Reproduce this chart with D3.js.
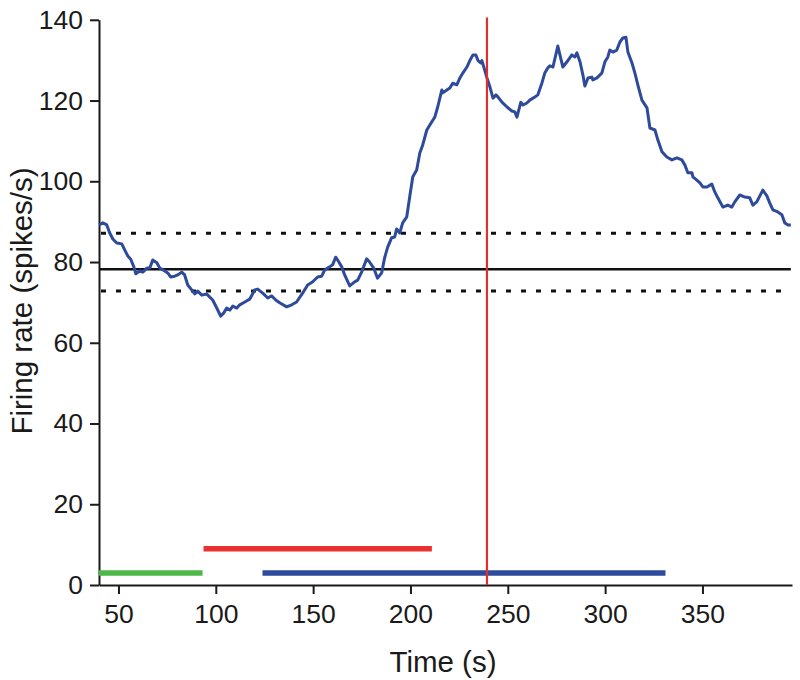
<!DOCTYPE html>
<html>
<head>
<meta charset="utf-8">
<script src="https://cdn.jsdelivr.net/npm/d3@7"></script>
<style>
  body { margin: 0; background: #fff; }
  svg text { font-family: "Liberation Sans", Arial, sans-serif; fill: #1a1a1a; }
</style>
</head>
<body>
<svg width="800" height="680"></svg>
<script>

// time points (s) of the firing rate trace
var times = [40,42,44,45.5,47.1,49.1,51.7,53.2,54.8,56.3,
  57.9,58.9,61,62.5,64.6,66.1,67.6,69.7,71.2,73.8,
  75.3,76.8,78.9,80.4,82.5,84,85.6,87.6,89.2,90.7,
  92.8,95.3,96.9,98.4,100.5,102.5,104.1,105.6,107.2,108.7,
  110.8,112.3,114.9,117.4,120,121.5,124.1,126.7,128.7,130.8,
  132.8,136.4,139,141.5,144.6,147.2,149.8,152.3,154.4,155.9,
  158.5,160,161.6,162.6,164.7,166.2,168.8,171.3,172.9,174.9,
  177.5,179,181.1,183.1,185.2,186.7,188.3,190.3,191.9,192.9,
  194.5,196,198.1,199.6,201.2,203.2,204.8,206.3,208.4,210.9,
  212.5,214,216.1,216.6,218.7,220.2,221.8,223.8,225.4,226.9,
  229,230.5,232.1,233.6,234.7,236.2,236.7,237.8,239.3,240.8,
  242.4,243.9,244.9,247,249.6,252.1,253.6,254.7,256.7,257.8,
  259.8,261.3,263.9,265.4,267.5,269,270.6,271.6,273.2,275.7,
  278.3,280.4,282.9,284.5,285.5,287.1,288.6,289.6,291.2,293.2,
  293.7,295.8,298.3,299.9,301.4,302.4,304,306,307.6,309.1,
  310.7,311.7,313.8,315.3,316.8,318.9,321.5,323,325.6,327.1,
  329.2,331.7,334.3,336.9,339.4,341,342.5,344.6,345.1,347.1,
  348.7,350.2,352.3,354.8,356.4,357.9,360.5,363,365.1,366.6,
  369.2,371.8,374.3,375.9,377.9,379.5,381,383.1,384.6,386.2,
  388.7,390.8,392.3,393.9,395.4];

// firing rate (spikes/s)
var rates = [89.2,89.7,89.2,87.2,85.7,84.7,84.5,83.0,81.5,80.7,
  78.8,77.1,77.8,77.5,78.5,78.5,80.5,79.8,78.5,77.8,
  77.3,76.3,76.5,76.8,77.5,76.8,74.3,73.1,72.1,72.8,
  71.8,72.1,71.3,70.6,68.6,66.6,67.4,68.6,68.1,69.1,
  68.6,69.4,70.1,70.8,73.1,73.3,72.3,71.1,71.6,70.6,
  69.9,68.9,69.4,70.1,72.3,74.3,75.1,76.3,76.5,78.0,
  78.8,79.3,81.2,80.5,78.8,76.8,74.1,75.1,75.5,77.5,
  80.8,80.0,78.5,76.0,77.3,81.0,83.7,86.0,86.2,88.2,
  87.2,89.7,91.2,96.1,101.1,102.8,107.0,109.0,112.7,114.7,
  115.9,118.4,122.6,121.9,122.6,123.1,124.3,123.9,125.6,126.8,
  128.3,129.9,131.3,131.3,129.9,129.3,129.9,128.1,125.6,123.4,
  120.6,121.4,120.9,119.6,118.4,117.4,117.2,115.9,119.6,118.9,
  119.4,120.1,120.9,121.4,124.3,126.8,128.1,128.6,128.3,133.5,
  128.3,129.6,131.3,130.8,131.8,129.6,126.3,123.6,125.6,125.8,
  125.1,125.6,126.8,129.6,130.8,132.5,132.0,132.5,134.5,135.5,
  135.7,132.0,129.3,126.8,123.9,120.1,118.2,113.2,112.7,110.2,
  107.3,106.0,105.3,105.8,105.3,104.0,102.1,102.1,101.1,100.3,
  99.6,98.6,98.6,99.3,97.3,95.9,93.6,94.1,93.6,94.9,
  96.6,96.1,95.9,94.1,94.9,96.4,97.8,96.4,94.6,92.9,
  92.4,91.7,89.7,89.2,89.2];

// baseline mean and limits
var baseMean = 78.2;
var baseLimits = [87.1, 72.8];

// marker time (s)
var markTime = 239.3;

// epoch bars: start, end, level
var barStarts = [40, 93.7, 124];
var barEnds = [93.2, 211, 331];
var barLevels = [3, 9, 3];
var barColors = ['#4db848', '#e8322f', '#2e4a9b'];

var xTicks = [50, 100, 150, 200, 250, 300, 350];
var yTicks = [0, 20, 40, 60, 80, 100, 120, 140];

var plotLeft = 99, plotRight = 792, plotTop = 19.8, plotBottom = 585;

var x = d3.scaleLinear().domain([40, 396]).range([plotLeft, plotRight]);
var y = d3.scaleLinear().domain([0, 140]).range([plotBottom, plotTop]);

var svg = d3.select('svg');

// axes
var xAxis = svg.append('g')
    .attr('transform', 'translate(0,' + plotBottom + ')')
    .call(d3.axisBottom(x).tickValues(xTicks).tickSize(9).tickSizeOuter(0));

xAxis.selectAll('text')
    .attr('y', 38)
    .attr('dy', null)
    .style('font-size', '26.5px');

var yAxis = svg.append('g')
    .attr('transform', 'translate(' + plotLeft + ',0)')
    .call(d3.axisLeft(y).tickValues(yTicks).tickSize(9).tickSizeOuter(0).tickPadding(7));

yAxis.selectAll('text')
    .style('font-size', '26.5px');

svg.selectAll('.domain, .tick line')
    .attr('stroke', '#1a1a1a')
    .attr('stroke-width', 2);

svg.selectAll('.tick text').attr('fill', '#1a1a1a');

// axis titles
svg.append('text')
    .attr('x', 443)
    .attr('y', 672)
    .attr('text-anchor', 'middle')
    .style('font-size', '29.5px')
    .text('Time (s)');

svg.append('text')
    .attr('transform', 'translate(32,301) rotate(-90)')
    .attr('text-anchor', 'middle')
    .style('font-size', '29.5px')
    .text('Firing rate (spikes/s)');

// baseline lines
svg.append('line')
    .attr('x1', x(40)).attr('x2', x(395.4))
    .attr('y1', y(baseMean)).attr('y2', y(baseMean))
    .attr('stroke', '#111')
    .attr('stroke-width', 2.6);

svg.selectAll('.limit')
    .data(baseLimits)
    .enter()
    .append('line')
    .attr('class', 'limit')
    .attr('x1', x(40) + 2).attr('x2', x(395.4))
    .attr('y1', function(d){ return y(d); })
    .attr('y2', function(d){ return y(d); })
    .attr('stroke', '#111')
    .attr('stroke-width', 3)
    .attr('stroke-dasharray', '5,10');

// epoch bars
svg.selectAll('.bar')
    .data(barStarts)
    .enter()
    .append('line')
    .attr('class', 'bar')
    .attr('x1', function(d){ return x(d); })
    .attr('x2', function(d, i){ return x(barEnds[i]); })
    .attr('y1', function(d, i){ return y(barLevels[i]); })
    .attr('y2', function(d, i){ return y(barLevels[i]); })
    .attr('stroke', function(d, i){ return barColors[i]; })
    .attr('stroke-width', 5.5);

// firing rate trace
var line = d3.line()
    .x(function(d){ return x(d[0]); })
    .y(function(d){ return y(d[1]); });

svg.append('path')
    .datum(d3.zip(times, rates))
    .attr('d', line)
    .attr('fill', 'none')
    .attr('stroke', '#2e4a9b')
    .attr('stroke-width', 3)
    .attr('stroke-linejoin', 'round');

// marker line
svg.append('line')
    .attr('x1', x(markTime)).attr('x2', x(markTime))
    .attr('y1', y(140.6)).attr('y2', y(0))
    .attr('stroke', '#e0302e')
    .attr('stroke-width', 2.2);

</script>
</body>
</html>
